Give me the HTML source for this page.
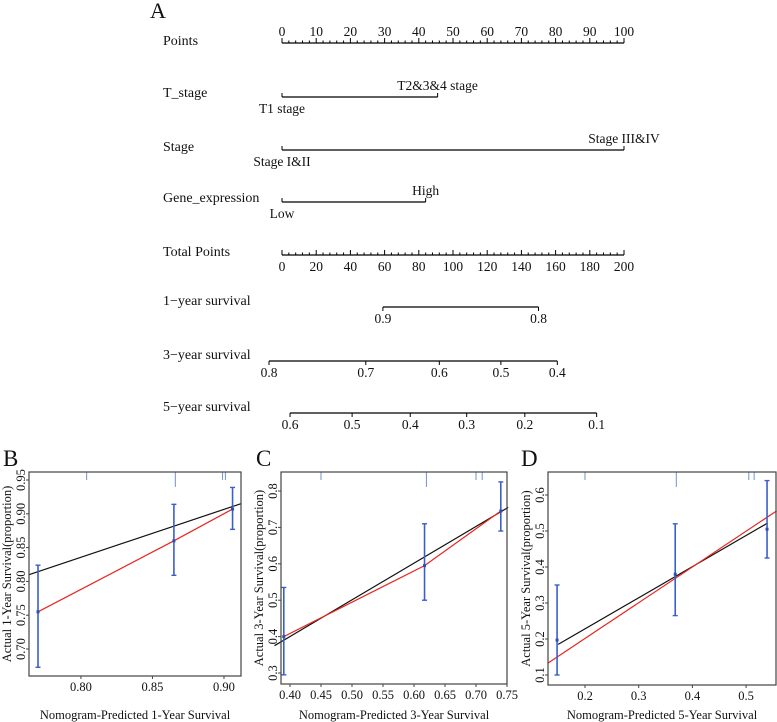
<!DOCTYPE html>
<html><head><meta charset="utf-8"><style>
body{margin:0;background:#fff}
svg{display:block;font-family:"Liberation Serif",serif}
</style></head><body>
<svg id="s" width="777" height="722" viewBox="0 0 777 722"></svg>
<script>
// ---------- Nomogram data ----------
const pointsTicks=[0,10,20,30,40,50,60,70,80,90,100];
const totalTicks=[0,20,40,60,80,100,120,140,160,180,200];
const tStageLevels=["T1 stage","T2&3&4 stage"], tStagePts=[0,45.5];
const stageLevels=["Stage I&II","Stage III&IV"], stagePts=[0,100];
const geneLevels=["Low","High"], genePts=[0,42];
const surv1Labels=["0.9","0.8"], surv1Total=[59,150];
const surv3Labels=["0.8","0.7","0.6","0.5","0.4"], surv3Total=[-7.6,49,92,128,161];
const surv5Labels=["0.6","0.5","0.4","0.3","0.2","0.1"], surv5Total=[4.7,41,75,108,142,184];
// ---------- Calibration data ----------
const bPredX=[0.770,0.865,0.906], bObsY=[0.755,0.86,0.907], bLo=[0.673,0.809,0.877], bHi=[0.824,0.914,0.939];
const bIdealX=[0.7637,0.9119], bIdealY=[0.81,0.915], bRug=[0.804,0.866,0.899,0.901];
const cPredX=[0.39,0.617,0.74], cObsY=[0.40,0.595,0.745], cLo=[0.295,0.50,0.69], cHi=[0.535,0.71,0.825];
const cIdealX=[0.375,0.752], cIdealY=[0.375,0.755], cRug=[0.45,0.62,0.70,0.71];
const dPredX=[0.148,0.368,0.539], dObsY=[0.197,0.38,0.505], dLo=[0.10,0.265,0.425], dHi=[0.35,0.52,0.64];
const dBlackX=[0.15,0.54], dBlackY=[0.185,0.522], dRedX=[0.131,0.557], dRedY=[0.133,0.556], dRug=[0.20,0.37,0.505,0.515];

const S=document.getElementById('s');
function el(tag,attrs,text){const e=document.createElementNS('http://www.w3.org/2000/svg',tag);for(const k in attrs)e.setAttribute(k,attrs[k]);if(text!==undefined)e.textContent=text;S.appendChild(e);return e;}
function line(x1,y1,x2,y2,c,w){return el('line',{x1,y1,x2,y2,stroke:c||'#000','stroke-width':w||1});}
function txt(x,y,s,size,anchor,extra){const a={x,y,'font-size':size,'text-anchor':anchor||'start',fill:'#111'};Object.assign(a,extra||{});return el('text',a,s);}

// ---- Nomogram ----
const X0=282,X1=624;
const px=p=>X0+p*(X1-X0)/100;
const tx=t=>X0+t*(X1-X0)/200;
let t=txt(150,18,"A",22);
function rowLabel(y,s,name){const e=txt(163,y,s,14);}
rowLabel(45,"Points","points-label");
let a=line(X0,43,X1,43,'#000',1.3);
for(let v=0;v<=100;v+=2){const big=v%10===0;line(px(v),43,px(v),big?38:40.5);}
pointsTicks.forEach(v=>txt(px(v),36,String(v),13.5,'middle'));
function factor(y,pts,labs,name){const l=line(px(pts[0]),y,px(pts[1]),y,'#000',1.3);
 pts.forEach(p=>line(px(p),y,px(p),y-4));
 txt(px(pts[0]),y+16,labs[0],13.5,'middle');txt(px(pts[1]),y-7,labs[1],13.5,'middle');}
rowLabel(97,"T_stage","t-stage-label");factor(97,tStagePts,tStageLevels,'t-stage');
rowLabel(151,"Stage","stage-label");factor(150,stagePts,stageLevels,'stage');
rowLabel(202,"Gene_expression","gene-expression-label");factor(202,genePts,geneLevels,'gene-expression');
rowLabel(256,"Total Points","total-points-label");
a=line(X0,255,X1,255,'#000',1.3);
for(let v=0;v<=200;v+=4){const big=v%20===0;line(tx(v),255,tx(v),big?250:252.5);}
totalTicks.forEach(v=>txt(tx(v),271,String(v),13.5,'middle'));
function surv(y,labs,tot,name,label){rowLabel(y-2,label,name+'-label');
 const l=line(tx(tot[0]),y,tx(tot[tot.length-1]),y,'#000',1.3);
 tot.forEach((v,i)=>{line(tx(v),y,tx(v),y+4);txt(tx(v),y+16,labs[i],13.5,'middle');});}
surv(307,surv1Labels,surv1Total,'one-year-survival',"1\u2212year survival");
surv(361,surv3Labels,surv3Total,'three-year-survival',"3\u2212year survival");
surv(413,surv5Labels,surv5Total,'five-year-survival',"5\u2212year survival");

// ---- Calibration panels ----
function panel(o){
 const sx=v=>o.L+(v-o.x0)*(o.R-o.L)/(o.x1-o.x0);
 const sy=v=>o.B-(v-o.y0)*(o.B-o.T)/(o.y1-o.y0);
 let e=txt(o.letterX,466,o.letter,23);
 o.rug.forEach(v=>{line(sx(v),o.T,sx(v),o.T+(v===o.rug[1]?15:8),'#7a8fd0',1);});
 e=line(sx(o.kx[0]),sy(o.ky[0]),sx(o.kx[1]),sy(o.ky[1]),'#111',1.2);
 const rx=o.redX||o.px, ry=o.redY||o.py;
 e=el('polyline',{points:rx.map((v,i)=>sx(v)+','+sy(ry[i])).join(' '),fill:'none',stroke:'#e8261e','stroke-width':1.2});
 o.px.forEach((v,i)=>{const x=sx(v);
  e=line(x,sy(o.lo[i]),x,sy(o.hi[i]),'#3b5fc8',1.6);
  line(x-2.5,sy(o.lo[i]),x+2.5,sy(o.lo[i]),'#3b5fc8',1.4);line(x-2.5,sy(o.hi[i]),x+2.5,sy(o.hi[i]),'#3b5fc8',1.4);
  e=el('rect',{x:x-1.5,y:sy(o.py[i])-1.5,width:3,height:3,fill:'#2b4fb0'});});
 e=el('rect',{x:o.L,y:o.T,width:o.R-o.L,height:o.B-o.T,fill:'none',stroke:'#444','stroke-width':1.2});
 o.xt.forEach((v,i)=>{const x=sx(v);line(x,o.B,x,o.B+3,'#444');txt(x,o.B+15,o.xtl[i],12.5,'middle');});
 o.yt.forEach((v,i)=>{const y=sy(v);line(o.L,y,o.L-3,y,'#444');txt(o.L-4,y,o.ytl[i],12.5,'middle',{transform:`rotate(-90 ${o.L-4} ${y})`});});
 e=txt((o.L+o.R)/2,719,o.xtitle,12.5,'middle');
 const yc=(o.T+o.B)/2;e=txt(o.L-18,yc,o.ytitle,12.5,'middle',{transform:`rotate(-90 ${o.L-18} ${yc})`});
}
panel({letter:"B",letterX:3,L:29,R:241,T:472,B:676,x0:0.7637,x1:0.9119,y0:0.95-(676-480)/676,y1:0.95+(480-472)/676,
 px:bPredX,py:bObsY,lo:bLo,hi:bHi,kx:bIdealX,ky:bIdealY,rug:bRug,
 xt:[0.80,0.85,0.90],xtl:["0.80","0.85","0.90"],yt:[0.70,0.75,0.80,0.85,0.90,0.95],ytl:["0.70","0.75","0.80","0.85","0.90","0.95"],
 xtitle:"Nomogram-Predicted  1-Year Survival",ytitle:"Actual 1-Year Survival(proportion)"});
panel({letter:"C",letterX:256,L:281,R:507,T:472,B:684,x0:0.40-9/620,x1:0.75,y0:0.3-(684-673)/364,y1:0.8+(491-472)/364,
 px:cPredX,py:cObsY,lo:cLo,hi:cHi,kx:cIdealX,ky:cIdealY,rug:cRug,
 xt:[0.40,0.45,0.50,0.55,0.60,0.65,0.70,0.75],xtl:["0.40","0.45","0.50","0.55","0.60","0.65","0.70","0.75"],yt:[0.3,0.4,0.5,0.6,0.7,0.8],ytl:["0.3","0.4","0.5","0.6","0.7","0.8"],
 xtitle:"Nomogram-Predicted  3-Year Survival",ytitle:"Actual 3-Year Survival(proportion)"});
panel({letter:"D",letterX:521,L:548,R:776,T:472,B:685,x0:0.2-37/537,x1:0.2+191/537,y0:0.1-(685-675)/360,y1:0.6+(495-472)/360,
 px:dPredX,py:dObsY,lo:dLo,hi:dHi,kx:dBlackX,ky:dBlackY,redX:dRedX,redY:dRedY,rug:dRug,
 xt:[0.2,0.3,0.4,0.5],xtl:["0.2","0.3","0.4","0.5"],yt:[0.1,0.2,0.3,0.4,0.5,0.6],ytl:["0.1","0.2","0.3","0.4","0.5","0.6"],
 xtitle:"Nomogram-Predicted  5-Year Survival",ytitle:"Actual 5-Year Survival(proportion)"});
</script>
</body></html>
